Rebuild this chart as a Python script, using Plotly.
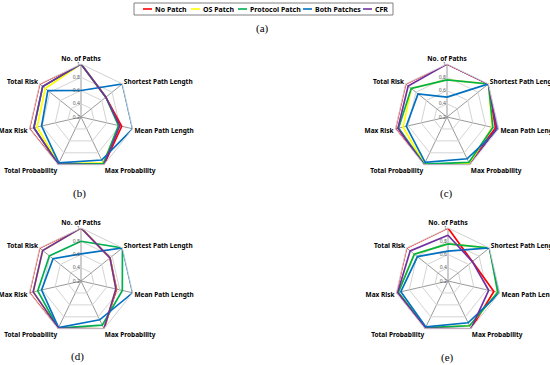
import plotly.graph_objects as go

W, H = 550, 365

categories = ["No. of Paths", "Shortest Path Length", "Mean Path Length",
              "Max Probability", "Total Probability", "Max Risk", "Total Risk"]
series_names = ["No Patch", "OS Patch", "Protocol Patch", "Both Patches", "CFR"]
series_colors = ["#FF0000", "#FFFF00", "#00B050", "#0070C0", "#7030A0"]
radial_ticks = [0.2, 0.4, 0.6, 0.8, 1.0]
radial_ticktext = ["0.2", "0.4", "0.6", "0.8", "1"]
panel_labels = ["(b)", "(c)", "(d)", "(e)"]

# Panel (b)
b_no_patch = [1.0, 0.68, 0.83, 1.0, 1.0, 1.0, 1.0]
b_os_patch = [1.0, 0.68, 0.79, 0.97, 0.98, 0.88, 0.89]
b_protocol = [1.0, 0.68, 0.78, 0.98, 0.99, 0.93, 0.94]
b_both = [0.60, 1.0, 1.0, 0.92, 0.97, 0.81, 0.84]
b_cfr = [1.0, 0.68, 0.80, 1.0, 0.99, 0.93, 0.94]

# Panel (c)
c_no_patch = [1.0, 1.0, 0.95, 0.97, 1.0, 1.0, 1.0]
c_os_patch = [0.76, 1.0, 0.90, 0.98, 0.99, 0.88, 0.89]
c_protocol = [0.76, 1.0, 0.91, 0.96, 0.99, 0.95, 0.89]
c_both = [0.50, 1.0, 1.0, 0.90, 0.96, 0.83, 0.76]
c_cfr = [1.0, 1.0, 0.97, 1.0, 1.0, 0.96, 0.95]

# Panel (d)
d_no_patch = [1.0, 0.76, 0.75, 1.0, 1.0, 1.0, 1.0]
d_os_patch = [1.0, 0.76, 0.74, 1.0, 0.99, 0.94, 0.94]
d_protocol = [0.80, 1.0, 0.84, 0.94, 0.99, 0.87, 0.81]
d_both = [0.61, 1.0, 1.0, 0.85, 0.98, 0.81, 0.74]
d_cfr = [1.0, 0.76, 0.74, 1.0, 0.99, 0.94, 0.94]

# Panel (e)
e_no_patch = [1.0, 0.67, 0.91, 1.0, 1.0, 1.0, 1.0]
e_os_patch = [0.76, 1.0, 0.97, 0.95, 0.98, 0.97, 0.85]
e_protocol = [0.76, 1.0, 0.97, 0.95, 0.98, 0.97, 0.85]
e_both = [0.65, 1.0, 1.0, 0.90, 0.97, 0.93, 0.79]
e_cfr = [0.89, 0.67, 0.83, 1.0, 0.99, 0.98, 0.93]

panels = [
    [b_no_patch, b_os_patch, b_protocol, b_both, b_cfr],
    [c_no_patch, c_os_patch, c_protocol, c_both, c_cfr],
    [d_no_patch, d_os_patch, d_protocol, d_both, d_cfr],
    [e_no_patch, e_os_patch, e_protocol, e_both, e_cfr],
]

centers = [(81, 117), (447, 117), (81, 281), (448, 281)]
R = 53
label_pos = [(79, 193), (446, 193), (77, 356), (447, 357)]

fig = go.Figure()
layout = dict(
    width=W, height=H, margin=dict(l=0, r=0, t=0, b=0),
    paper_bgcolor="white", plot_bgcolor="white", showlegend=False,
)

for i, series in enumerate(panels):
    pname = "polar" if i == 0 else f"polar{i+1}"
    for name, color, vals in zip(series_names, series_colors, series):
        fig.add_trace(go.Scatterpolar(
            r=vals + [vals[0]], theta=categories + [categories[0]],
            mode="lines", name=name, line=dict(color=color, width=1.7),
            subplot=pname, showlegend=False, hoverinfo="skip",
        ))
    cx, cy = centers[i]
    layout[pname] = dict(
        domain=dict(x=[(cx - R) / W, (cx + R) / W],
                    y=[1 - (cy + R) / H, 1 - (cy - R) / H]),
        bgcolor="white",
        gridshape="linear",
        angularaxis=dict(
            rotation=90, direction="clockwise", categoryorder="array",
            categoryarray=categories,
            tickfont=dict(family="Noto Sans", size=6.5, color="black", weight="bold"),
            gridcolor="#9a9a9a", gridwidth=1,
            linecolor="#d0d0d0", linewidth=1, ticks="",
        ),
        radialaxis=dict(
            range=[0.2, 1.0], tickvals=radial_ticks, ticktext=radial_ticktext,
            angle=90, tickangle=90, side="counterclockwise",
            tickfont=dict(family="Noto Sans", size=5, color="#595959"),
            gridcolor="#d4d4d4", gridwidth=1, showline=False, ticks="",
        ),
    )

annotations = []
for (lx, ly), txt in zip(label_pos, panel_labels):
    annotations.append(dict(x=lx / W, y=1 - ly / H, xref="paper", yref="paper",
                            xanchor="center", yanchor="middle",
                            text=txt, showarrow=False,
                            font=dict(family="Liberation Serif", size=11, color="black")))
annotations.append(dict(x=262 / W, y=1 - 28 / H, xref="paper", yref="paper",
                        xanchor="center", yanchor="middle",
                        text="(a)", showarrow=False,
                        font=dict(family="Liberation Serif", size=11, color="black")))

# Legend (manual, compact as in reference)
shapes = [dict(type="rect", xref="paper", yref="paper",
               x0=134 / W, x1=393 / W, y0=1 - 15 / H, y1=1 - 3 / H,
               line=dict(color="#808080", width=1), fillcolor="white")]
leg_line_x = [143, 191, 238, 303, 363]
ly = 1 - 9 / H
for lx, name, color in zip(leg_line_x, series_names, series_colors):
    shapes.append(dict(type="line", xref="paper", yref="paper",
                       x0=lx / W, x1=(lx + 9) / W, y0=ly, y1=ly,
                       line=dict(color=color, width=1.6)))
    annotations.append(dict(x=(lx + 10) / W, y=ly, xref="paper", yref="paper",
                            xanchor="left", yanchor="middle", text=name, showarrow=False,
                            font=dict(family="Noto Sans", size=7, color="black", weight="bold")))

layout["annotations"] = annotations
layout["shapes"] = shapes
fig.update_layout(**layout)
fig.write_html("out.html", config={"displayModeBar": False},
               post_script="document.body.style.margin='0';")
